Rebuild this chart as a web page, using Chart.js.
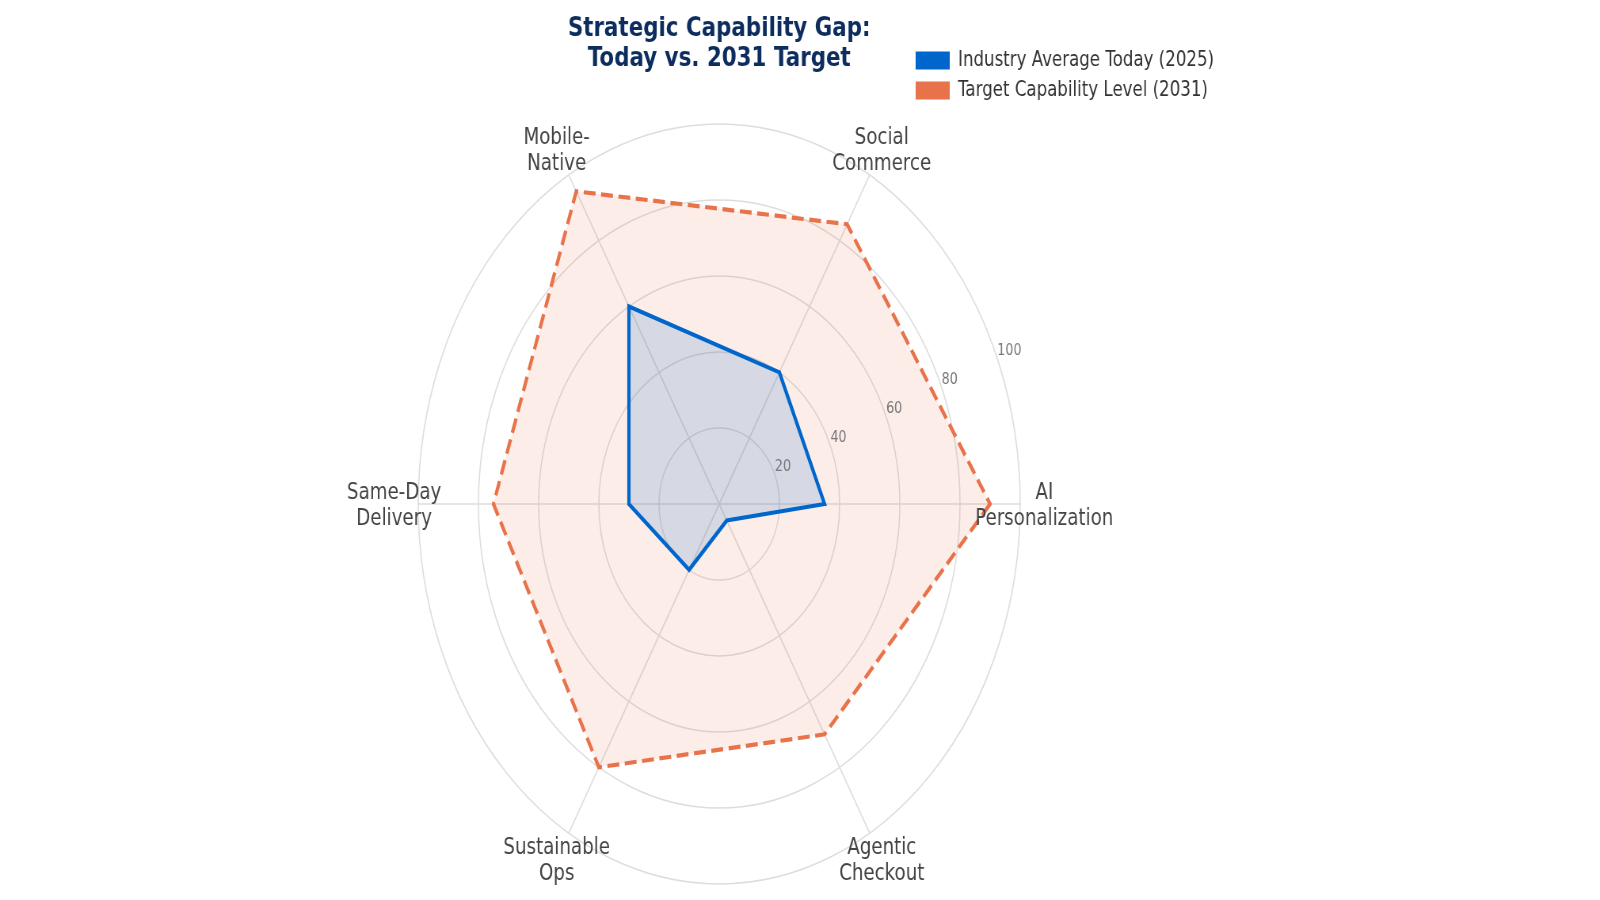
<!DOCTYPE html>
<html>
<head>
<meta charset="utf-8">
<script src="https://cdn.jsdelivr.net/npm/chart.js@4.4.1/dist/chart.umd.min.js"></script>
<style>
  html, body { margin: 0; padding: 0; background: #ffffff; overflow: hidden; width: 1600px; height: 900px; }
  #wrap { position: absolute; left: 0; top: 0; width: 2020px; height: 900px; transform: scaleX(0.79208); transform-origin: 0 0; }
  canvas { display: block; }
</style>
</head>
<body>
<div id="wrap"><canvas id="chart"></canvas></div>
<script>
// ---- data (clockwise from the right-hand axis) ----
const categories = [
  ['AI', 'Personalization'],
  ['Agentic', 'Checkout'],
  ['Sustainable', 'Ops'],
  ['Same-Day', 'Delivery'],
  ['Mobile-', 'Native'],
  ['Social', 'Commerce']
];
const seriesNames = ['Industry Average Today (2025)', 'Target Capability Level (2031)'];
const todayValues = [35, 5, 20, 30, 60, 40];
const targetValues = [90, 70, 80, 75, 95, 85];
const titleLines = ['Strategic Capability Gap:', 'Today vs. 2031 Target'];
const radialMin = 0;
const radialMax = 100;
const radialStep = 20;

// ---- style ----
const BLUE = '#0066cc';
const ORANGE = '#e8734a';
const legendColors = [BLUE, ORANGE];
const LABEL_VALUE = 108;
const TICK_ANGLE = 22.5 * Math.PI / 180;

Chart.defaults.font.family = '"DejaVu Sans", sans-serif';

const overlay = {
  id: 'overlay',
  afterLayout(chart) {
    const lg = chart.legend;
    if (lg) {
      const w = lg.width, h = lg.height;
      lg.left = 1147; lg.top = 41;
      lg.right = lg.left + w; lg.bottom = lg.top + h;
    }
  },
  afterDatasetsDraw(chart) {
    const s = chart.scales.r;
    const ctx = chart.ctx;
    ctx.save();
    ctx.font = '16px "DejaVu Sans"';
    ctx.fillStyle = '#777777';
    ctx.textAlign = 'left';
    ctx.textBaseline = 'bottom';
    s.ticks.forEach(t => {
      if (t.value <= radialMin) return;
      const d = s.getDistanceFromCenterForValue(t.value);
      ctx.fillText(String(t.label), s.xCenter + d * Math.cos(TICK_ANGLE), s.yCenter - d * Math.sin(TICK_ANGLE));
    });
    ctx.font = '23px "DejaVu Sans"';
    ctx.fillStyle = '#444444';
    ctx.textAlign = 'center';
    ctx.textBaseline = 'middle';
    chart.data.labels.forEach((lab, i) => {
      const p = s.getPointPositionForValue(i, LABEL_VALUE);
      const lines = Array.isArray(lab) ? lab : [lab];
      lines.forEach((ln, j) => {
        ctx.fillText(ln, p.x, p.y + 2 + (j - (lines.length - 1) / 2) * 26);
      });
    });
    ctx.restore();
  }
};

new Chart(document.getElementById('chart'), {
  type: 'radar',
  data: {
    labels: categories,
    datasets: [
      {
        label: seriesNames[0],
        data: todayValues,
        borderColor: BLUE,
        backgroundColor: 'rgba(0,102,204,0.15)',
        borderWidth: 4.2,
        borderJoinStyle: 'miter',
        pointRadius: 0,
        pointHoverRadius: 0,
        fill: true,
        tension: 0
      },
      {
        label: seriesNames[1],
        data: targetValues,
        borderColor: ORANGE,
        backgroundColor: 'rgba(232,115,74,0.13)',
        borderWidth: 4.2,
        borderDash: [15, 7],
        borderJoinStyle: 'miter',
        pointRadius: 0,
        pointHoverRadius: 0,
        fill: true,
        tension: 0
      }
    ]
  },
  options: {
    responsive: true,
    maintainAspectRatio: false,
    animation: false,
    layout: { padding: { left: 0, right: 204, top: 0, bottom: 16 } },
    scales: {
      r: {
        min: radialMin,
        max: radialMax,
        startAngle: 90,
        ticks: { display: false, stepSize: radialStep },
        grid: { circular: true, color: '#dddddd', lineWidth: 1.6 },
        angleLines: { color: '#dddddd', lineWidth: 1.6 },
        pointLabels: { display: false }
      }
    },
    plugins: {
      title: {
        display: true,
        text: titleLines,
        color: '#0c2d5e',
        font: { size: 27, weight: 'bold', lineHeight: 29.5 / 27 },
        padding: { top: 14.5, bottom: 50.5 }
      },
      legend: {
        position: 'chartArea',
        align: 'start',
        labels: {
          boxWidth: 43,
          boxHeight: 18,
          padding: 9,
          color: '#333333',
          font: { size: 21, lineHeight: 1.2 },
          generateLabels(chart) {
            const items = Chart.defaults.plugins.legend.labels.generateLabels(chart);
            items.forEach((it, i) => {
              it.fillStyle = legendColors[i];
              it.strokeStyle = legendColors[i];
              it.lineWidth = 0;
              it.lineDash = [];
            });
            return items;
          }
        }
      },
      tooltip: { enabled: false }
    }
  },
  plugins: [overlay]
});
</script>
</body>
</html>
